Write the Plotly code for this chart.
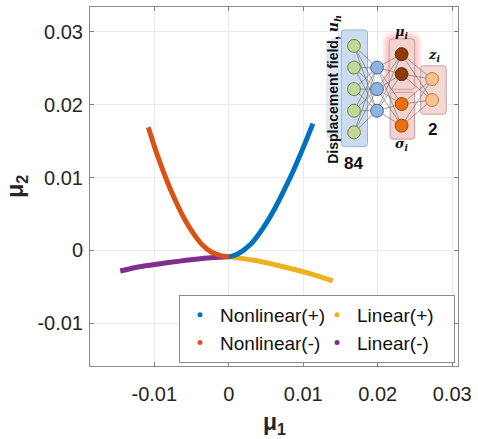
import plotly.graph_objects as go

# Latent-space trajectories (mu_1, mu_2)
nl_pos_x = [0.0, 0.0012, 0.0030, 0.0047, 0.0060, 0.0074, 0.0087, 0.0100, 0.0113]
nl_pos_y = [-0.0009, -0.0005, 0.0009, 0.0032, 0.0054, 0.0082, 0.0110, 0.0141, 0.0174]

nl_neg_x = [0.0, -0.0012, -0.0024, -0.0036, -0.0048, -0.0060, -0.0072, -0.0084, -0.0096, -0.0108]
nl_neg_y = [-0.0009, -0.0007, -0.0002, 0.0008, 0.0024, 0.0044, 0.0069, 0.0098, 0.0131, 0.0169]

lin_pos_x = [0.0, 0.0034, 0.00691, 0.01044, 0.01396]
lin_pos_y = [-0.0009, -0.00137, -0.00215, -0.00306, -0.0042]

lin_neg_x = [0.0, -0.0041, -0.0085, -0.01159, -0.01457]
lin_neg_y = [-0.0009, -0.00119, -0.00174, -0.00219, -0.00284]

series_names = ["Nonlinear(+)", "Linear(+)", "Nonlinear(-)", "Linear(-)"]
series_colors = ["#0072BD", "#EDB120", "#D95319", "#7E2F8E"]
series_x = [nl_pos_x, lin_pos_x, nl_neg_x, lin_neg_x]
series_y = [nl_pos_y, lin_pos_y, nl_neg_y, lin_neg_y]

tick_vals = [-0.01, 0, 0.01, 0.02, 0.03]
tick_text = ["-0.01", "0", "0.01", "0.02", "0.03"]

W, H = 478, 439
ML, MR, MT, MB = 90, 14, 6, 73
PW, PH = W - ML - MR, H - MT - MB


def fx(x):
    return (x - ML) / PW


def fy(y):
    return (MT + PH - y) / PH


fig = go.Figure()

# curves (drawn in an order that leaves the junction like the original)
for idx in [1, 3, 0, 2]:
    fig.add_trace(go.Scatter(
        x=series_x[idx], y=series_y[idx], mode="lines",
        line=dict(color=series_colors[idx], width=5, shape="spline", smoothing=1.0),
        showlegend=False, hoverinfo="skip"))

# legend entries shown as dots
for name, color in zip(series_names, series_colors):
    fig.add_trace(go.Scatter(
        x=[None], y=[None], mode="markers", name=name,
        marker=dict(color=color, size=5)))

shapes = []
annotations = []


def rrect(x0, y0, x1, y1, r, fill, line, lw=1, opacity=1.0):
    X0, X1 = fx(x0), fx(x1)
    Y0, Y1 = fy(y0), fy(y1)
    rx, ry = r / PW, r / PH
    path = (f"M {X0+rx},{Y0} L {X1-rx},{Y0} Q {X1},{Y0} {X1},{Y0-ry} "
            f"L {X1},{Y1+ry} Q {X1},{Y1} {X1-rx},{Y1} L {X0+rx},{Y1} "
            f"Q {X0},{Y1} {X0},{Y1+ry} L {X0},{Y0-ry} Q {X0},{Y0} {X0+rx},{Y0} Z")
    shapes.append(dict(type="path", xref="paper", yref="paper", path=path,
                       fillcolor=fill, line=dict(color=line, width=lw),
                       opacity=opacity, layer="above"))


def circle(cx, cy, r, fill, line):
    shapes.append(dict(type="circle", xref="paper", yref="paper",
                       x0=fx(cx - r), x1=fx(cx + r), y0=fy(cy + r), y1=fy(cy - r),
                       fillcolor=fill, line=dict(color=line, width=1), layer="above"))


def seg(x0, y0, x1, y1):
    shapes.append(dict(type="line", xref="paper", yref="paper",
                       x0=fx(x0), y0=fy(y0), x1=fx(x1), y1=fy(y1),
                       line=dict(color="#666666", width=0.6), layer="above"))


# network inset: input band shading
shapes.append(dict(type="path", xref="paper", yref="paper",
                   path=f"M {fx(330)},{fy(40)} L {fx(350)},{fy(32)} L {fx(350)},{fy(144)} L {fx(330)},{fy(136)} Z",
                   fillcolor="#c4d7ee", line=dict(width=0), opacity=0.55, layer="above"))

# layer boxes
rrect(345.5, 29, 372, 146, 3, "#CCDCF0", "#9db3cf")
for g in [7, 5, 3]:
    rrect(394 - g, 38 - g, 420 + g, 88 + g, 4 + g, "rgba(255,80,80,0.10)", "rgba(0,0,0,0)", lw=0)
rrect(394, 38, 420, 88.5, 3, "#F3D3D0", "#c49a98")
rrect(395, 91.5, 420, 138.5, 3, "#F3D3D0", "#c49a98")
rrect(426, 65, 452, 113.5, 3, "#F3D8D4", "#c9a29e")

in_y = [45, 66.7, 88.3, 110, 131.7]
hid_y = [66.7, 88.3, 110]
lat_y = [53.3, 73.3, 103.3, 125]
z_y = [78.3, 99.3]
in_x, hid_x, lat_x, z_x = 358.3, 381.7, 406.7, 437.7

for a in in_y:
    for b in hid_y:
        seg(in_x, a, hid_x, b)
for a in hid_y:
    for b in lat_y:
        seg(hid_x, a, lat_x, b)
for a in lat_y:
    for b in z_y:
        seg(lat_x, a, z_x, b)

for y in in_y:
    circle(in_x, y, 6.5, "#C3D69B", "#6f8a3c")
for y in hid_y:
    circle(hid_x, y, 6.5, "#8DB3E2", "#4a6890")
for y in lat_y[:2]:
    circle(lat_x, y, 6.5, "#8E3B0A", "#5a2200")
for y in lat_y[2:]:
    circle(lat_x, y, 6.5, "#E8700E", "#9a4500")
for y in z_y:
    circle(z_x, y, 6.5, "#FBC290", "#b87a40")


def note(x, y, text, size, angle=0, family="Liberation Sans", color="#111111"):
    annotations.append(dict(x=fx(x), y=fy(y), xref="paper", yref="paper",
                            text=text, showarrow=False, textangle=angle,
                            font=dict(size=size, family=family, color=color),
                            xanchor="center", yanchor="middle"))


note(338, 89, "<b>Displacement field, </b><span style=\"font-family:'DejaVu Serif'\"><b><i>u</i></b><sub><b><i>h</i></b></sub></span>",
     14, angle=-90)
note(357.5, 163, "<b>84</b>", 17)
note(438.5, 128.5, "<b>2</b>", 17)
note(407.5, 32, "<b><i>μ</i></b><sub><b><i>i</i></b></sub>", 13, family="DejaVu Serif")
note(407.5, 144, "<b><i>σ</i></b><sub><b><i>i</i></b></sub>", 13, family="DejaVu Serif")
note(439.5, 55, "<b><i>z</i></b><sub><b><i>i</i></b></sub>", 13, family="DejaVu Serif")

# axis titles
note(277, 424, "<b>μ</b><sub><b>1</b></sub>", 23, color="#262626")
note(15, 186, "<b>μ</b><sub><b>2</b></sub>", 23, angle=-90, color="#262626")

axis_common = dict(
    tickvals=tick_vals, ticktext=tick_text, ticks="inside", ticklen=4,
    tickcolor="#7f7f7f", showline=True, linecolor="#8a8a8a", linewidth=1,
    mirror="allticks", showgrid=True, gridcolor="#ebebeb", gridwidth=1,
    zeroline=False, tickfont=dict(size=20, family="Liberation Sans", color="#262626"),
)

fig.update_layout(
    width=W, height=H,
    margin=dict(l=ML, r=MR, t=MT, b=MB),
    paper_bgcolor="white", plot_bgcolor="white",
    xaxis=dict(range=[-0.01863, 0.03078], ticklabelstandoff=10, **axis_common),
    yaxis=dict(range=[-0.01589, 0.03342], ticklabelstandoff=2, **axis_common),
    shapes=shapes, annotations=annotations,
    legend=dict(
        orientation="h", x=fx(461), y=fy(363), xanchor="right", yanchor="bottom",
        bgcolor="white", bordercolor="#8a8a8a", borderwidth=1,
        font=dict(size=19, family="Liberation Sans", color="#111111"),
        entrywidth=92, entrywidthmode="pixels", itemwidth=30,
        tracegroupgap=0,
    ),
    showlegend=True,
)

fig.write_html("out.html")
